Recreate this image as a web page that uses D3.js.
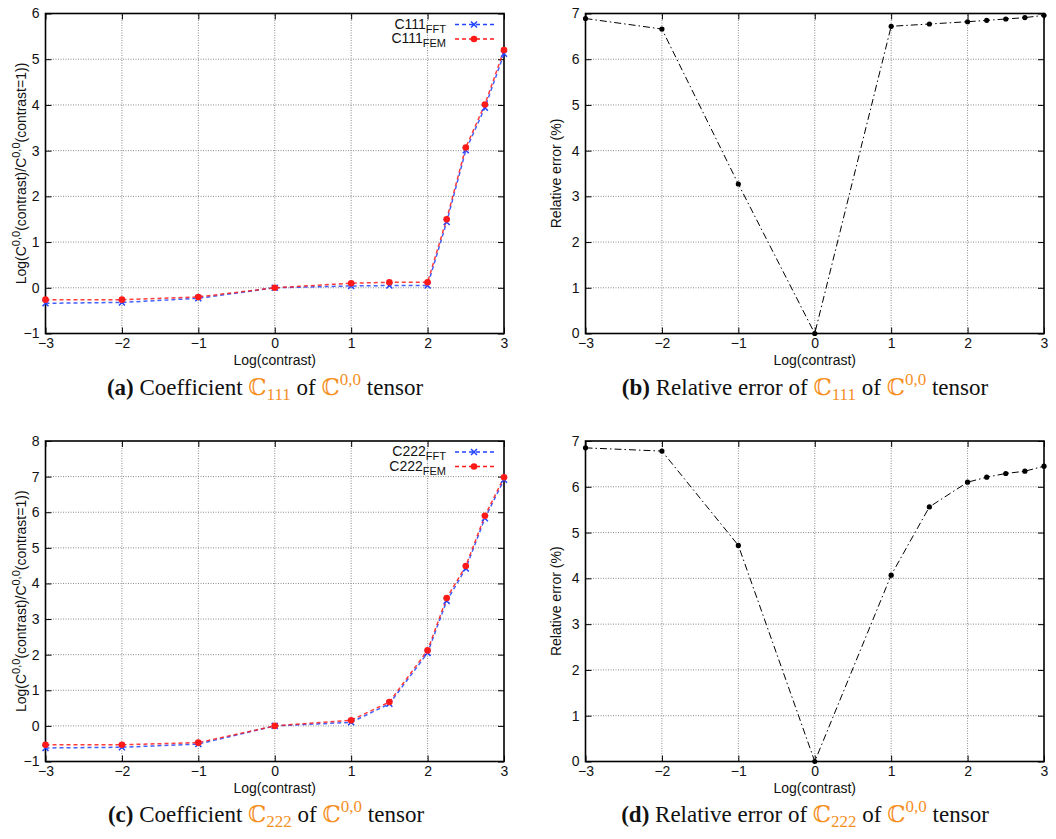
<!DOCTYPE html>
<html>
<head>
<meta charset="utf-8">
<script src="https://cdn.jsdelivr.net/npm/d3@7"></script>
<style>
  html, body { margin: 0; padding: 0; background: #fff; }
  svg { display: block; }
</style>
</head>
<body>
<svg id="chart" width="1056" height="839"></svg>
<script>
// ---------------- data ----------------
const xContrast = [-3, -2, -1, 0, 1, 1.5, 2, 2.25, 2.5, 2.75, 3];
const c111FFT = [-0.34, -0.32, -0.23, 0, 0.04, 0.05, 0.05, 1.44, 3.01, 3.94, 5.12];
const c111FEM = [-0.26, -0.26, -0.20, 0, 0.10, 0.12, 0.12, 1.50, 3.07, 4.01, 5.20];
const c111Err = [6.89, 6.66, 3.27, 0, 6.72, 6.77, 6.82, 6.85, 6.88, 6.91, 6.96];
const c222FFT = [-0.62, -0.60, -0.51, 0, 0.10, 0.62, 2.05, 3.51, 4.42, 5.83, 6.91];
const c222FEM = [-0.53, -0.53, -0.47, 0, 0.16, 0.67, 2.12, 3.59, 4.49, 5.90, 6.98];
const c222Err = [6.85, 6.78, 4.72, 0, 4.07, 5.56, 6.10, 6.21, 6.29, 6.34, 6.45];
const xTicks = [-3, -2, -1, 0, 1, 2, 3];
const yTicksA = [-1, 0, 1, 2, 3, 4, 5, 6];
const yTicksC = [-1, 0, 1, 2, 3, 4, 5, 6, 7, 8];
const yTicksErr = [0, 1, 2, 3, 4, 5, 6, 7];
const xLabel = "Log(contrast)";
const errLabel = "Relative error (%)";

// ---------------- styling ----------------
const SANS = "'Liberation Sans', Arial, Helvetica, sans-serif";
const SERIF = "'Liberation Serif', 'DejaVu Serif', serif";
const ORANGE = "#f5901f";
const BLUE = "#2244ff";
const RED = "#ff1a1a";

const svg = d3.select("#chart");

function drawFrame(g, x, y, yTicks) {
  const [x0, x1] = x.range();
  const [y0, y1] = y.range(); // y0 bottom, y1 top
  // grid
  g.append("g").selectAll("line.gx").data(xTicks.slice(1, -1)).join("line")
    .attr("x1", d => x(d)).attr("x2", d => x(d)).attr("y1", y0).attr("y2", y1)
    .attr("stroke", "#8a8a8a").attr("stroke-width", 1).attr("stroke-dasharray", "1,1.5");
  g.append("g").selectAll("line.gy").data(yTicks.slice(1, -1)).join("line")
    .attr("x1", x0).attr("x2", x1).attr("y1", d => y(d)).attr("y2", d => y(d))
    .attr("stroke", "#8a8a8a").attr("stroke-width", 1).attr("stroke-dasharray", "1,1.5");
  // axes with inward ticks (mirrored)
  const tl = 6;
  g.append("g").attr("transform", `translate(0,${y0})`)
    .call(d3.axisBottom(x).tickValues(xTicks).tickSizeInner(-tl).tickSizeOuter(0).tickPadding(5).tickFormat(d3.format("d")))
    .call(a => { a.select(".domain").remove(); a.selectAll("text").attr("font-family", SANS).attr("font-size", 14).attr("fill", "#111"); a.selectAll("line").attr("stroke", "#000"); });
  g.append("g").attr("transform", `translate(0,${y1})`)
    .call(d3.axisTop(x).tickValues(xTicks).tickSizeInner(-tl).tickSizeOuter(0).tickFormat(""))
    .call(a => { a.select(".domain").remove(); a.selectAll("line").attr("stroke", "#000"); });
  g.append("g").attr("transform", `translate(${x0},0)`)
    .call(d3.axisLeft(y).tickValues(yTicks).tickSizeInner(-tl).tickSizeOuter(0).tickPadding(6).tickFormat(d3.format("d")))
    .call(a => { a.select(".domain").remove(); a.selectAll("text").attr("font-family", SANS).attr("font-size", 14).attr("fill", "#111"); a.selectAll("line").attr("stroke", "#000"); });
  g.append("g").attr("transform", `translate(${x1},0)`)
    .call(d3.axisRight(y).tickValues(yTicks).tickSizeInner(-tl).tickSizeOuter(0).tickFormat(""))
    .call(a => { a.select(".domain").remove(); a.selectAll("line").attr("stroke", "#000"); });
  // border
  g.append("rect").attr("x", x0).attr("y", y1).attr("width", x1 - x0).attr("height", y0 - y1)
    .attr("fill", "none").attr("stroke", "#000").attr("stroke-width", 1.6);
  // x label
  g.append("text").attr("x", (x0 + x1) / 2).attr("y", y0 + 31)
    .attr("text-anchor", "middle").attr("font-family", SANS).attr("font-size", 14).attr("fill", "#111")
    .text(xLabel);
}

function drawCaption(cx, cy, letter, pre, sub) {
  const t = svg.append("text").attr("x", cx).attr("y", cy).attr("text-anchor", "middle")
    .attr("font-family", SERIF).attr("font-size", 23).attr("fill", "#111");
  t.append("tspan").attr("font-weight", "bold").text(`(${letter})`);
  t.append("tspan").text(` ${pre} `);
  t.append("tspan").attr("fill", ORANGE).text("\u2102");
  t.append("tspan").attr("fill", ORANGE).attr("font-size", 17).attr("dy", 5).text(sub);
  t.append("tspan").attr("dy", -5).text(" of ");
  t.append("tspan").attr("fill", ORANGE).text("\u2102");
  t.append("tspan").attr("fill", ORANGE).attr("font-size", 17).attr("dy", -10).text("0,0");
  t.append("tspan").attr("dy", 10).text(" tensor");
}

function coefPanel(top, bottom, yDomain, yTicks, fft, fem, name) {
  const x = d3.scaleLinear().domain([-3, 3]).range([45.5, 504]);
  const y = d3.scaleLinear().domain(yDomain).range([bottom, top]);
  const g = svg.append("g");
  drawFrame(g, x, y, yTicks);
  // y label
  const lx = 26, ly = (top + bottom) / 2;
  const t = g.append("text").attr("transform", `translate(${lx},${ly}) rotate(-90)`)
    .attr("text-anchor", "middle").attr("font-family", SANS).attr("font-size", 14).attr("fill", "#111");
  t.append("tspan").text("Log(C");
  t.append("tspan").attr("font-size", 11).attr("dy", -6).text("0,0");
  t.append("tspan").attr("dy", 6).text("(contrast)/C");
  t.append("tspan").attr("font-size", 11).attr("dy", -6).text("0,0");
  t.append("tspan").attr("dy", 6).text("(contrast=1))");

  const line = d3.line().x(d => x(d[0])).y(d => y(d[1]));
  const fftPts = xContrast.map((v, i) => [v, fft[i]]);
  const femPts = xContrast.map((v, i) => [v, fem[i]]);
  g.append("path").datum(fftPts).attr("d", line).attr("fill", "none")
    .attr("stroke", BLUE).attr("stroke-width", 1.5).attr("stroke-dasharray", "4,3").attr("opacity", 0.85);
  g.append("path").datum(femPts).attr("d", line).attr("fill", "none")
    .attr("stroke", RED).attr("stroke-width", 1.5).attr("stroke-dasharray", "4,3").attr("opacity", 0.85);
  const cross = (sel, s) => sel.append("path")
    .attr("d", `M${-s},${-s}L${s},${s}M${-s},${s}L${s},${-s}`)
    .attr("stroke", BLUE).attr("stroke-width", 1.5);
  g.append("g").selectAll("g").data(fftPts).join("g")
    .attr("transform", d => `translate(${x(d[0])},${y(d[1])})`)
    .each(function () { cross(d3.select(this), 3); });
  g.append("g").selectAll("circle").data(femPts).join("circle")
    .attr("cx", d => x(d[0])).attr("cy", d => y(d[1])).attr("r", 3.3).attr("fill", RED);

  // legend
  const entries = [[`FFT`, BLUE, "x"], [`FEM`, RED, "o"]];
  entries.forEach((e, i) => {
    const by = top + 15 + i * 14.5;
    const tt = g.append("text").attr("x", 446).attr("y", by).attr("text-anchor", "end")
      .attr("font-family", SANS).attr("font-size", 14).attr("fill", "#111");
    tt.append("tspan").text(name);
    tt.append("tspan").attr("font-size", 11).attr("dy", 4).text(e[0]);
    const ly2 = by - 4;
    g.append("line").attr("x1", 455).attr("x2", 494).attr("y1", ly2).attr("y2", ly2)
      .attr("stroke", e[1]).attr("stroke-width", 1.5).attr("stroke-dasharray", "4,3");
    if (e[2] === "x") {
      const gg = g.append("g").attr("transform", `translate(474,${ly2})`);
      cross(gg, 3);
    } else {
      g.append("circle").attr("cx", 474).attr("cy", ly2).attr("r", 3.3).attr("fill", RED);
    }
  });
}

function errPanel(top, bottom, err) {
  const x = d3.scaleLinear().domain([-3, 3]).range([585.5, 1044]);
  const y = d3.scaleLinear().domain([0, 7]).range([bottom, top]);
  const g = svg.append("g");
  drawFrame(g, x, y, yTicksErr);
  g.append("text").attr("transform", `translate(561,${(top + bottom) / 2}) rotate(-90)`)
    .attr("text-anchor", "middle").attr("font-family", SANS).attr("font-size", 14).attr("fill", "#111")
    .text(errLabel);
  const pts = xContrast.map((v, i) => [v, err[i]]);
  const line = d3.line().x(d => x(d[0])).y(d => y(d[1]));
  g.append("path").datum(pts).attr("d", line).attr("fill", "none")
    .attr("stroke", "#000").attr("stroke-width", 1).attr("stroke-dasharray", "7,3,1.5,3");
  g.append("g").selectAll("circle").data(pts).join("circle")
    .attr("cx", d => x(d[0])).attr("cy", d => y(d[1])).attr("r", 2.6).attr("fill", "#000");
}

coefPanel(13.5, 333.5, [-1, 6], yTicksA, c111FFT, c111FEM, "C111");
errPanel(13.5, 333.5, c111Err);
coefPanel(441, 761.5, [-1, 8], yTicksC, c222FFT, c222FEM, "C222");
errPanel(441, 761.5, c222Err);

drawCaption(265, 395, "a", "Coefficient", "111");
drawCaption(805, 395, "b", "Relative error of", "111");
drawCaption(266, 822, "c", "Coefficient", "222");
drawCaption(805, 822, "d", "Relative error of", "222");
</script>
</body>
</html>
